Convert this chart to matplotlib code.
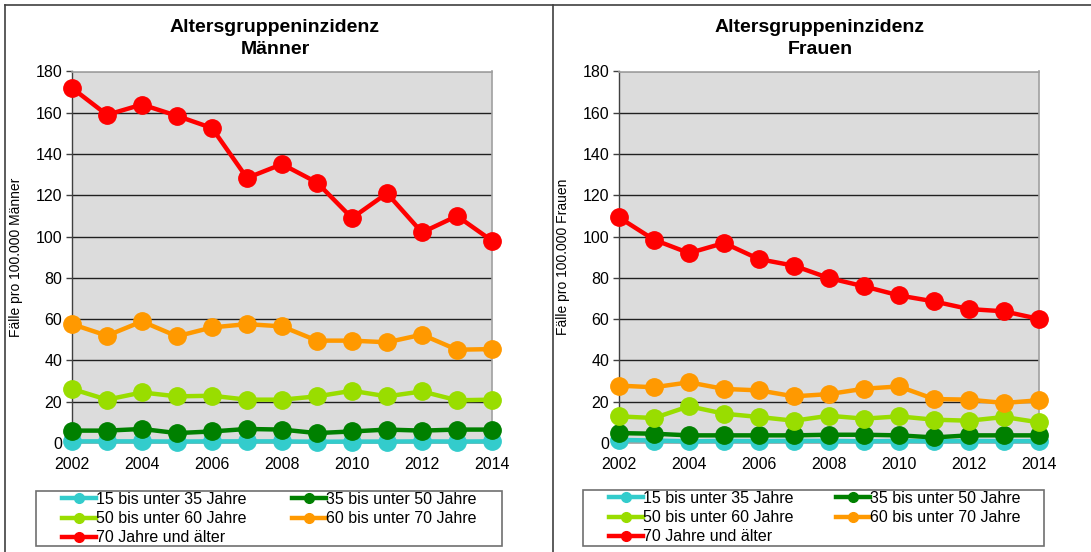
import matplotlib
matplotlib.use("Agg")
import matplotlib.pyplot as plt
from matplotlib.lines import Line2D
from matplotlib.patches import Rectangle

plt.rcParams['font.family'] = ['Liberation Sans', 'DejaVu Sans']

years = list(range(2002, 2015))
series_labels = ["15 bis unter 35 Jahre", "35 bis unter 50 Jahre",
                 "50 bis unter 60 Jahre", "60 bis unter 70 Jahre",
                 "70 Jahre und älter"]
colors = ["#33CCCC", "#008000", "#99DD00", "#FF9900", "#FF0000"]

men_15_35 = [0.8, 0.8, 0.8, 0.7, 0.8, 0.8, 0.8, 0.6, 0.7, 0.7, 0.8, 0.7, 0.8]
men_35_50 = [6.0, 6.0, 6.8, 4.8, 5.6, 6.8, 6.5, 4.8, 5.6, 6.5, 6.0, 6.5, 6.5]
men_50_60 = [26.2, 21.0, 24.5, 22.6, 22.9, 21.0, 21.0, 22.6, 25.3, 22.6, 25.0, 20.7, 21.0]
men_60_70 = [57.6, 52.0, 58.9, 51.7, 56.0, 57.6, 56.5, 49.6, 49.6, 48.8, 52.5, 45.2, 45.5]
men_70 = [172, 159, 164, 158.5, 152.6, 128.4, 135.1, 126.2, 109, 121, 102, 110, 98]

women_15_35 = [1.5, 1.2, 0.8, 1.0, 0.9, 1.0, 1.0, 0.8, 1.0, 0.8, 1.0, 0.9, 0.9]
women_35_50 = [4.8, 4.5, 3.7, 3.7, 3.7, 3.7, 4.0, 4.0, 3.7, 2.7, 3.7, 3.7, 3.7]
women_50_60 = [12.9, 12.1, 17.8, 14.2, 12.6, 10.8, 13.2, 11.8, 12.9, 11.3, 10.8, 12.6, 10.0]
women_60_70 = [27.8, 27.0, 29.4, 26.2, 25.5, 22.6, 23.7, 26.3, 27.4, 21.3, 21.0, 19.4, 20.7]
women_70 = [109.3, 98.5, 92.0, 96.9, 89.1, 85.9, 79.9, 75.9, 71.5, 68.6, 64.9, 63.8, 60.1]

men = [men_15_35, men_35_50, men_50_60, men_60_70, men_70]
women = [women_15_35, women_35_50, women_50_60, women_60_70, women_70]

W, H = 1091, 552
fig = plt.figure(figsize=(W / 100, H / 100), dpi=100)

# frame lines
fig.add_artist(Line2D([5 / W, 1], [1 - 5 / H, 1 - 5 / H], color="#404040", lw=1.2))
fig.add_artist(Line2D([5 / W, 5 / W], [0, 1 - 5 / H], color="#404040", lw=1.2))
fig.add_artist(Line2D([553 / W, 553 / W], [0, 1 - 5 / H], color="#404040", lw=1.2))

# legend order: matplotlib fills column-wise; reorder so rows read like the reference
legend_order = [0, 2, 4, 1, 3]


def panel(left_px, data, title, ylabel, title_x, legend_box, content_x):
    ax = fig.add_axes([left_px / W, (H - 443) / H, 420 / W, 371.5 / H])
    ax.set_facecolor("#DCDCDC")
    for vals, c in zip(data, colors):
        ax.plot(years, vals, color=c, lw=3.2, marker="o", markersize=12.5,
                clip_on=False, zorder=3)
    ax.set_xlim(2002, 2014)
    ax.set_ylim(0, 180)
    ax.set_yticks(range(0, 181, 20))
    ax.set_xticks(range(2002, 2015, 2))
    ax.grid(axis="y", color="#202020", lw=1.0)
    ax.set_axisbelow(True)
    for s in ax.spines.values():
        s.set_color("#A0A0A0")
        s.set_linewidth(1.2)
    ax.spines["left"].set_color("#404040")
    ax.spines["left"].set_linewidth(1.0)
    ax.tick_params(axis="y", length=4, width=1, color="#404040", labelsize=11.5, pad=3)
    ax.tick_params(axis="x", length=0, labelsize=11.5, pad=10)
    ax.set_ylabel(ylabel, fontsize=10, labelpad=9)
    fig.text(title_x / W, 1 - 27 / H, "Altersgruppeninzidenz", ha="center", va="center",
             fontsize=14, fontweight="bold")
    fig.text(title_x / W, 1 - 50 / H, title, ha="center", va="center",
             fontsize=14, fontweight="bold")

    x0, y0, x1, y1 = legend_box
    fig.add_artist(Rectangle((x0 / W, 1 - y1 / H), (x1 - x0) / W, (y1 - y0) / H,
                             transform=fig.transFigure, fill=False,
                             edgecolor="#707070", lw=1.2))
    handles = [Line2D([], [], color=c, lw=3.2, marker="o", markersize=7) for c in colors]
    hs = [handles[i] for i in legend_order]
    ls = [series_labels[i] for i in legend_order]
    cx0, cx1 = content_x
    fig.legend(hs, ls, ncol=2, loc="upper left",
               bbox_to_anchor=(cx0 / W, 1 - (y1 - 1) / H, (cx1 - cx0) / W, (y1 - y0 - 2) / H),
               mode="expand", fontsize=11.5, frameon=False,
               handlelength=2.1, handletextpad=0.0, labelspacing=0.26,
               borderpad=0.0, columnspacing=1.0, borderaxespad=0)
    return ax


panel(72, men, "Männer", "Fälle pro 100.000 Männer", 275, (36, 491, 502, 546), (62, 476))
panel(619, women, "Frauen", "Fälle pro 100.000 Frauen", 820, (583, 490, 1044, 546), (609, 1020))

fig.savefig("out.png", dpi=100)
